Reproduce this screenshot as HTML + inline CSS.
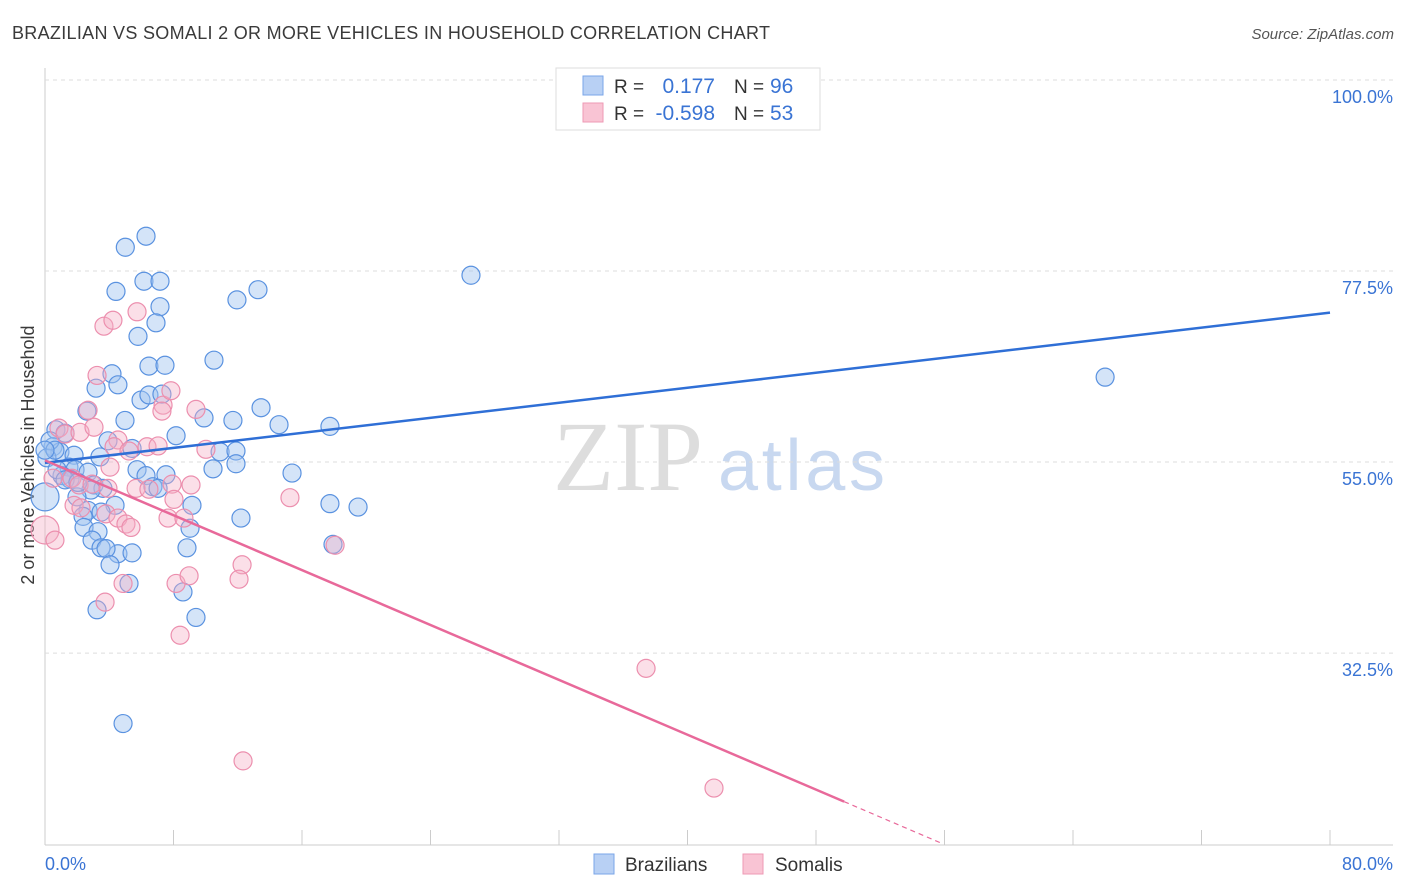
<!DOCTYPE html>
<html><head><meta charset="utf-8"><style>
body{margin:0;background:#fff;font-family:"Liberation Sans",sans-serif;}
svg{display:block}
</style></head><body>
<svg id="chart" width="1406" height="892">
<text x="12" y="39" font-size="18" fill="#3a3a3a" textLength="758">BRAZILIAN VS SOMALI 2 OR MORE VEHICLES IN HOUSEHOLD CORRELATION CHART</text>
<text x="1394" y="39" font-size="15" font-style="italic" fill="#555" text-anchor="end">Source: ZipAtlas.com</text>
<text x="553" y="490" font-size="100" font-family="Liberation Serif,serif" fill="#ddd">ZIP</text>
<text x="718" y="490" font-size="72" fill="#c8d8f0" textLength="167">atlas</text>
<text transform="translate(34,455) rotate(-90)" font-size="18" fill="#3a3a3a" text-anchor="middle">2 or more Vehicles in Household</text>
<g id="grid"></g><g id="pts"></g><g id="lines"></g>
<g>
<rect x="556" y="68" width="264" height="62" fill="#fff" stroke="#ddd"/>
<rect x="583" y="76" width="20" height="19" fill="#b8d0f4" stroke="#7aa6e8"/>
<rect x="583" y="103" width="20" height="19" fill="#f9c4d4" stroke="#ee9ab4"/>
<text x="614" y="93" font-size="19" fill="#333">R = </text><text x="715" y="93" font-size="21" fill="#3a74d4" text-anchor="end">0.177</text>
<text x="734" y="93" font-size="19" fill="#333">N = </text><text x="770" y="93" font-size="21" fill="#3a74d4">96</text>
<text x="614" y="120" font-size="19" fill="#333">R = </text><text x="715" y="120" font-size="21" fill="#3a74d4" text-anchor="end">-0.598</text>
<text x="734" y="120" font-size="19" fill="#333">N = </text><text x="770" y="120" font-size="21" fill="#3a74d4">53</text>
</g>
<g>
<rect x="594" y="854" width="20" height="20" fill="#b8d0f4" stroke="#7aa6e8"/>
<text x="625" y="871" font-size="19" fill="#333">Brazilians</text>
<rect x="743" y="854" width="20" height="20" fill="#f9c4d4" stroke="#ee9ab4"/>
<text x="775" y="871" font-size="19" fill="#333">Somalis</text>
</g>
</svg>
<script>
const yTicks=[100,77.5,55,32.5];
const yTickLabels=["100.0%","77.5%","55.0%","32.5%"];
const xTickLabels=["0.0%","80.0%"];
const blueX=[5.0,6.29,4.42,6.16,7.16,11.95,13.26,26.52,7.16,6.91,5.79,6.47,7.47,10.52,4.17,4.54,3.18,5.98,6.47,7.28,2.61,4.98,9.9,11.7,13.45,14.57,17.74,8.16,3.92,5.42,0.68,1.25,0.5,0.93,1.81,3.42,10.9,11.89,11.89,10.46,15.38,5.73,6.29,7.53,1.49,1.87,2.68,1.06,1.56,3.05,3.61,6.72,7.04,2.86,1.99,4.36,9.15,17.74,19.49,2.68,3.49,2.37,12.2,2.43,3.3,9.03,2.93,3.49,4.54,3.8,5.42,8.84,4.05,5.23,8.59,3.24,9.4,4.86,66.0,0.0,0.12,0.31,0.62,0.75,0.0,1.25,2.05,17.93];
const blueY=[80.3,81.6,75.1,76.3,76.3,74.1,75.3,77.0,73.3,71.4,69.8,66.3,66.4,67.0,65.4,64.1,63.7,62.3,62.9,63.0,61.0,59.9,60.2,59.9,61.4,59.4,59.2,58.1,57.5,56.6,58.8,58.4,56.8,56.2,55.8,55.6,56.2,56.3,54.8,54.2,53.7,54.1,53.4,53.5,54.4,54.1,53.8,53.4,53.0,52.3,51.9,52.1,51.9,51.7,50.9,49.9,49.9,50.1,49.7,49.3,49.1,48.6,48.4,47.3,46.8,47.2,45.8,44.9,44.2,44.8,44.3,44.9,42.9,40.7,39.7,37.6,36.7,24.2,65.0,50.9,55.5,57.5,56.4,54.1,56.4,52.9,52.6,45.3];
const pinkX=[0.87,2.68,3.24,3.67,4.23,5.73,7.35,7.84,7.28,9.4,10.02,1.25,2.18,3.05,4.54,4.3,5.23,6.35,7.04,4.05,1.68,0.5,2.12,2.93,3.92,5.67,6.47,7.91,9.09,1.81,2.24,3.8,4.54,5.04,5.35,7.66,8.65,8.03,15.25,0.0,12.27,12.08,8.16,8.97,4.86,3.74,8.41,37.42,12.33,41.65,18.06,0.62];
const pinkY=[59.0,61.1,65.2,71.0,71.7,72.7,61.7,63.4,61.0,61.2,56.5,58.3,58.5,59.1,57.6,56.8,56.3,56.8,56.9,54.4,53.1,53.1,52.3,52.4,51.9,51.9,51.8,52.4,52.3,49.9,49.6,48.9,48.4,47.7,47.3,48.4,48.4,50.6,50.8,47.0,42.9,41.2,40.7,41.6,40.7,38.5,34.6,30.7,19.8,16.6,45.2,45.8];
const blueTrend=[54.9,72.6];
const pinkTrend=[55.2,-0.808];
const NS="http://www.w3.org/2000/svg";
const X=v=>45+v/80*1285, Y=v=>80+(100-v)*8.49;
function mk(t,a,p){const e=document.createElementNS(NS,t);for(const k in a)e.setAttribute(k,a[k]);p.appendChild(e);return e;}
const grid=document.getElementById('grid');
mk('line',{x1:45,y1:68,x2:45,y2:845,stroke:'#ccc'},grid);
mk('line',{x1:45,y1:845,x2:1393,y2:845,stroke:'#ccc'},grid);
yTicks.forEach((v,i)=>{
 const l=mk('line',{x1:45,y1:Y(v),x2:1393,y2:Y(v),stroke:'#ddd','stroke-dasharray':'4,4'},grid);
 
 
 const t=mk('text',{x:1393,y:Y(v)+23,'font-size':18,fill:'#3a74d4','text-anchor':'end'},grid);t.textContent=yTickLabels[i];
 
 
});
for(let i=0;i<=10;i++){mk('line',{x1:X(i*8),y1:830,x2:X(i*8),y2:845,stroke:'#ccc'},grid);}
[[0,'start',45],[80,'end',1393]].forEach((d,i)=>{const t=mk('text',{x:d[2],y:870,'font-size':18,fill:'#3a74d4','text-anchor':d[1]},grid);t.textContent=xTickLabels[i];
 
 });
const pts=document.getElementById('pts');
blueX.forEach((x,i)=>{const r=(x===0&&Math.abs(blueY[i]-50.9)<0.1)?14:9;
 const c=mk('circle',{cx:X(x),cy:Y(blueY[i]),r:r,fill:'rgba(160,195,240,0.45)',stroke:'#5a92e0','stroke-width':1.2},pts);
 
 });
pinkX.forEach((x,i)=>{const r=(x===0)?14:9;
 const c=mk('circle',{cx:X(x),cy:Y(pinkY[i]),r:r,fill:'rgba(245,175,198,0.4)',stroke:'#ec8fae','stroke-width':1.2},pts);
 
 });
const lines=document.getElementById('lines');
const bl=mk('line',{x1:X(0),y1:Y(blueTrend[0]),x2:X(80),y2:Y(blueTrend[1]),stroke:'#2f6fd6','stroke-width':2.5},lines);


const pe=(pinkTrend[0]-15)/(-pinkTrend[1]);
const pl=mk('line',{x1:X(0),y1:Y(pinkTrend[0]),x2:X(pe),y2:Y(pinkTrend[0]+pinkTrend[1]*pe),stroke:'#e8699a','stroke-width':2.5},lines);


const pe2=55.8;
const pd=mk('line',{x1:X(pe),y1:Y(pinkTrend[0]+pinkTrend[1]*pe),x2:X(pe2),y2:Y(pinkTrend[0]+pinkTrend[1]*pe2),stroke:'#e8699a','stroke-width':1.2,'stroke-dasharray':'5,4'},lines);


</script>
</body></html>
